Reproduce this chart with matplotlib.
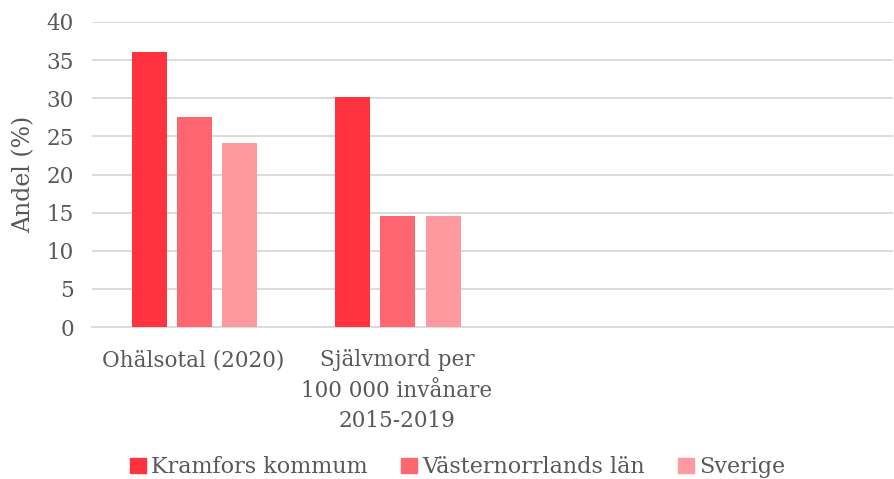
import numpy as np
import matplotlib.pyplot as plt
from matplotlib.patches import Patch

categories = ["Ohälsotal (2020)", "Självmord per\n100 000 invånare\n2015-2019", "", ""]
kramfors = [36.1, 30.2, 0, 0]
vasternorrland = [27.6, 14.6, 0, 0]
sverige = [24.1, 14.6, 0, 0]
series_names = ["Kramfors kommum", "Västernorrlands län", "Sverige"]
colors = ["#FF323F", "#FF6670", "#FF99A0"]

plt.rcParams['font.family'] = ['DejaVu Serif']
txt = "#595959"

fig = plt.figure(figsize=(8.94, 4.79), dpi=100)
ax = fig.add_axes([92/894, 152/479, 801/894, 305/479])

x = np.arange(len(categories))
w = 35/203
step = 45/203
for i, (vals, c) in enumerate(zip([kramfors, vasternorrland, sverige], colors)):
    ax.bar(x + (i-1)*step + 0.005, vals, width=w, color=c, zorder=3)

ax.set_ylim(0, 40)
ax.set_yticks(range(0, 41, 5))
ax.set_xlim(-0.5, 3.44)
ax.set_xticks(x)
ax.set_xticklabels(categories, fontsize=15.5, color=txt, linespacing=1.5)
ax.tick_params(axis='y', length=0, labelsize=15.5, labelcolor=txt, pad=13)
ax.tick_params(axis='x', length=0, labelcolor=txt, pad=16)
ax.grid(axis='y', color='#D9D9D9', linewidth=1.3, zorder=0)
for s in ['top', 'right', 'left']:
    ax.spines[s].set_visible(False)
ax.spines['bottom'].set_color('#D9D9D9')
ax.spines['bottom'].set_linewidth(1.3)
ax.set_ylabel("Andel (%)", fontsize=17, color=txt, labelpad=8)

handles = [Patch(color=c) for c in colors]
fig.legend(handles, series_names, loc='lower center', bbox_to_anchor=(0.512, -0.04),
           ncol=3, frameon=False, fontsize=16, handlelength=0.7, handleheight=0.7,
           handletextpad=0.25, columnspacing=1.5, labelcolor=txt)

fig.savefig("out.png", dpi=100)
